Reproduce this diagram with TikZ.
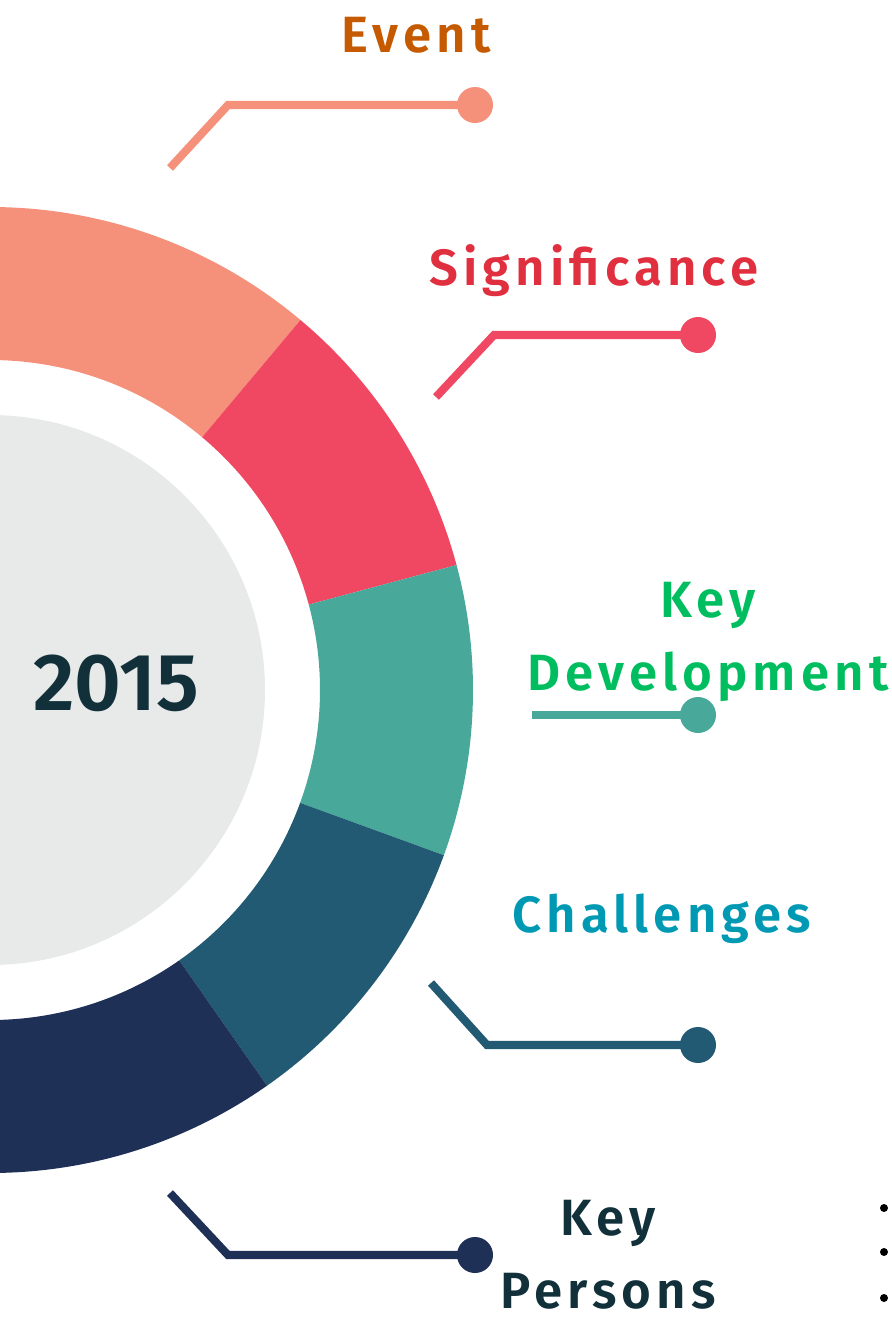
\documentclass[tikz,border=0pt]{standalone}
\usepackage{fontspec}
\setmainfont{Fira Sans}[BoldFont={Fira Sans SemiBold}]
\newfontfamily\labelfont{Fira Sans SemiBold}[LetterSpace=10]
\definecolor{segA}{HTML}{F5917B}
\definecolor{segB}{HTML}{F04862}
\definecolor{segC}{HTML}{48A99A}
\definecolor{segD}{HTML}{235A73}
\definecolor{segE}{HTML}{1F3057}
\definecolor{hubgray}{HTML}{E8E9E9}
\definecolor{txtA}{HTML}{C55A00}
\definecolor{txtB}{HTML}{E0303F}
\definecolor{txtC}{HTML}{00BE5F}
\definecolor{txtD}{HTML}{0099B4}
\definecolor{txtE}{HTML}{11303A}
\tikzset{
  lead/.style={#1, line width=2.3pt},
  dotend/.style={circle, fill=#1, inner sep=0pt, minimum size=0.36cm},
  title/.style={text=#1, font=\labelfont\fontsize{14.5}{20.7}\selectfont, align=center, inner sep=0pt}
}
\begin{document}
\begin{tikzpicture}[x=0.01cm,y=0.01cm]
        \clip (0,0) rectangle (892,-1317);
        \coordinate (hub) at (-10,-690);
        % ring segments
        \foreach \a/\b/\c in {50/140/segA, 15/50/segB, -20/15/segC, -55/-20/segD, -140/-55/segE} {
            \fill[\c] ([shift={(\a:483)}]hub) arc[start angle=\a, end angle=\b, radius=483]
                -- ([shift={(\b:330)}]hub) arc[start angle=\b, end angle=\a, radius=330] -- cycle;
        }
        \fill[hubgray] (hub) circle (275);
        \node[text=txtE, font=\bfseries\fontsize{23}{26}\selectfont, inner sep=0pt] (year) at (116,-683) {2015};

        % leaders
        \node[dotend=segA] (evdot) at (475,-105) {};
        \node[dotend=segB] (sgdot) at (698,-335) {};
        \node[dotend=segC] (kddot) at (698,-715) {};
        \node[dotend=segD] (chdot) at (698,-1045) {};
        \node[dotend=segE] (kpdot) at (475,-1255) {};
        \coordinate (evend) at (170,-168);
        \coordinate (sgend) at (436,-397);
        \coordinate (kdend) at (532,-715);
        \coordinate (chend) at (431,-983);
        \coordinate (kpend) at (170,-1193);
        \draw[lead=segA] (evend) -- (228,-105) -- (evdot.center);
        \draw[lead=segB] (sgend) -- (494,-335) -- (sgdot.center);
        \draw[lead=segC] (kdend) -- (kddot.center);
        \draw[lead=segD] (chend) -- (487,-1045) -- (chdot.center);
        \draw[lead=segE] (kpend) -- (228,-1255) -- (kpdot.center);

        % labels
        \node[title=txtA, anchor=base] (event) at (416,-52) {Event};
        \node[title=txtB, anchor=base] (signif) at (594,-285) {Significance};
        \node[title=txtC, anchor=base] (keydev) at (708,-690) {Key\\Development};
        \node[title=txtD, anchor=base] (chall) at (662,-932) {Challenges};
        \node[title=txtE, anchor=base] (keypers) at (608,-1308) {Key\\Persons};

        % cut-off list bullets
        \foreach \y in {1208, 1252, 1298} {
            \fill[black] (884,-\y) circle (4);
        }
    \end{tikzpicture}
\end{document}
